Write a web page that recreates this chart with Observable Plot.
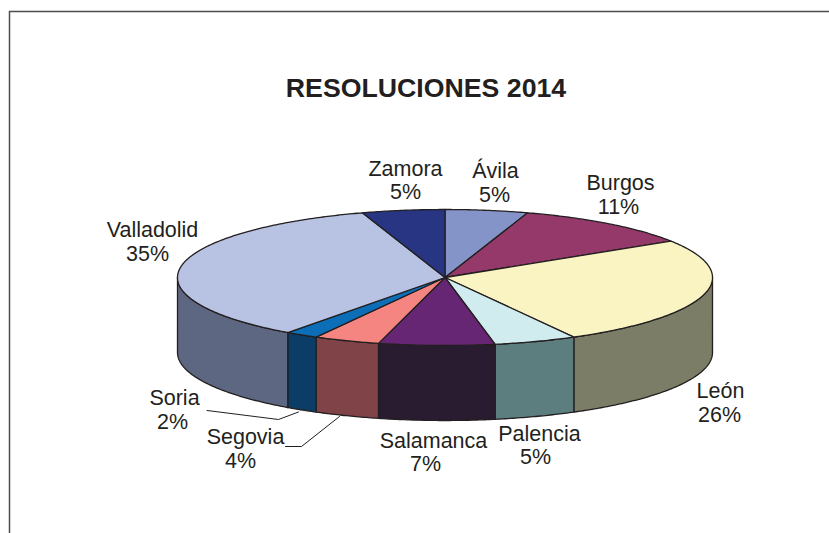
<!DOCTYPE html>
<html>
<head>
<meta charset="utf-8">
<script src="https://cdn.jsdelivr.net/npm/d3@7"></script>
<script src="https://cdn.jsdelivr.net/npm/@observablehq/plot@0.6"></script>
<style>html,body{margin:0;padding:0;background:#fff}svg{display:block}</style>
</head>
<body>
<div id="chart"></div>
<script>
const titleText = "RESOLUCIONES 2014";
const provinces = ["Ávila","Burgos","León","Palencia","Salamanca","Segovia","Soria","Valladolid","Zamora"];
const percents = [5,11,26,5,7,4,2,35,5];
const topColors = ["#8493c8","#95396b","#faf3c2","#d0ecee","#662673","#f58581","#0d6eb8","#b8c2e2","#283583"];
const sideColors = ["#5f6990","#6b294d","#7c7d66","#5c7e7f","#2a1c30","#804347","#0c3d66","#5e6781","#1c265e"];

// Layout (separate from the data)
const W = 829, H = 533;
const pie = {cx:444.5, cy:277, rx:267.5, ry:68, depth:75};
const ink = "#231f20";
const nameAnchors = [[495,171],[620,183],[720,391],[539,434],[433,441],[245,437],[174,398],[152,230],[405,169]];
const pctAnchors  = [[494,195],[618,207],[719,415],[535,457],[425,464],[240,461],[172,422],[147,254],[405,192]];
const leaders = [
  {key:"Soria", pts:[[206.5,410],[278,419],[298,411.5]]},
  {key:"Segovia", pts:[[285,446],[301,446],[339,416]]}
];
const frame = {left:9, top:11};

// Slice geometry from the percents
const total = d3.sum(percents);
const toRad = p => p / total * 2 * Math.PI;
const onRim = (t, dy=0) => ({x: pie.cx + pie.rx*Math.sin(t), y: pie.cy - pie.ry*Math.cos(t) + dy});
const arcSteps = (a, b) => {
  const n = Math.max(2, Math.ceil((b-a)/0.01));
  return d3.range(n+1).map(i => a + (b-a)*i/n);
};
let acc = 0;
const tops = [], sides = [];
provinces.forEach((name,i) => {
  const a = toRad(acc), b = toRad(acc + percents[i]);
  acc += percents[i];
  const c = {x:pie.cx, y:pie.cy};
  const ring = [c, ...arcSteps(a,b).map(t => onRim(t)), c];
  ring.forEach(p => tops.push({...p, key:name, color:topColors[i]}));
  const a2 = Math.max(a, Math.PI/2), b2 = Math.min(b, 3*Math.PI/2);
  if (b2 > a2) {
    const ts = arcSteps(a2,b2);
    const wall = [...ts.map(t => onRim(t)), ...ts.slice().reverse().map(t => onRim(t,pie.depth))];
    wall.push(wall[0]);
    wall.forEach(p => sides.push({...p, key:name, color:sideColors[i]}));
  }
});

const nameRows = provinces.map((name,i) => ({name, x:nameAnchors[i][0], y:nameAnchors[i][1]}));
const pctRows = percents.map((v,i) => ({label:v+"%", x:pctAnchors[i][0], y:pctAnchors[i][1]}));
const leaderRows = leaders.flatMap(l => l.pts.map(([x,y]) => ({x,y,key:l.key})));

const chart = Plot.plot({
  width:W, height:H,
  margin:0,
  x:{domain:[0,W], range:[0,W], axis:null},
  y:{domain:[0,H], range:[0,H], axis:null},
  style:{background:"#fff", fontFamily:"'Liberation Sans', Arial, sans-serif"},
  marks:[
    Plot.ruleX([frame.left], {y1:frame.top, y2:H, stroke:"#4d4d4d", strokeWidth:1.5}),
    Plot.ruleY([frame.top], {x1:frame.left, x2:W, stroke:"#4d4d4d", strokeWidth:1.5}),
    Plot.line(sides, {x:"x", y:"y", z:"key", fill:"color", stroke:ink, strokeWidth:1.3, strokeLinejoin:"round"}),
    Plot.line(tops, {x:"x", y:"y", z:"key", fill:"color", stroke:ink, strokeWidth:1.3, strokeLinejoin:"round"}),
    Plot.line(leaderRows, {x:"x", y:"y", z:"key", stroke:ink, strokeWidth:1}),
    Plot.text([titleText], {x:[425.5], y:[88], text:d=>d, fontSize:26.7, fontWeight:"bold", fill:ink}),
    Plot.text(nameRows, {x:"x", y:"y", text:"name", fontSize:21.5, fill:ink}),
    Plot.text(pctRows, {x:"x", y:"y", text:"label", fontSize:21.5, fill:ink})
  ]
});
document.getElementById("chart").append(chart);
</script>
</body>
</html>
